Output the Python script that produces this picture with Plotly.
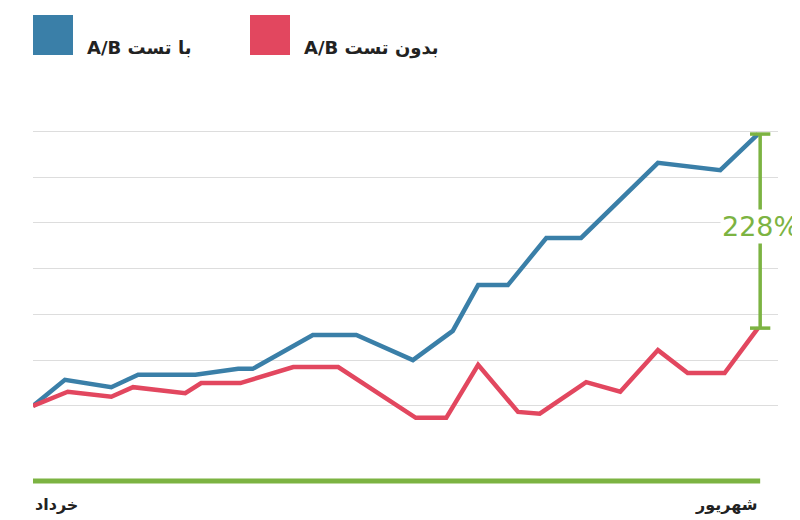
import plotly.graph_objects as go

# x: position along the timeline (0 = خرداد, 100 = شهریور)
with_ab_x = [0, 4.4, 10.8, 14.5, 22.4, 28.3, 30.3, 38.6, 44.6, 52.4, 57.9, 61.4, 65.5, 70.8, 75.6, 86.2, 94.8, 100]
with_ab_y = [0, 0.57, 0.41, 0.68, 0.68, 0.81, 0.81, 1.55, 1.55, 1.0, 1.64, 2.64, 2.64, 3.67, 3.67, 5.31, 5.15, 5.94]

without_ab_x = [0, 4.8, 10.8, 13.8, 21.0, 23.2, 28.6, 35.9, 42.1, 52.8, 57.0, 61.4, 66.9, 69.9, 76.3, 81.0, 86.2, 90.3, 95.4, 100]
without_ab_y = [0, 0.31, 0.2, 0.41, 0.28, 0.5, 0.5, 0.85, 0.85, -0.26, -0.26, 0.9, -0.13, -0.17, 0.52, 0.31, 1.22, 0.72, 0.72, 1.7]

labels = ["با تست A/B", "بدون تست A/B"]
gain_text = "228%"
x_labels = ["خرداد", "شهریور"]
grid_vals = [0, 1, 2, 3, 4, 5, 6]

blue = "#3a7fa8"
red = "#e2475f"
green = "#7cb342"
font = "DejaVu Sans"


def rtl(s):
    return "\u202b" + s + "\u202c"


fig = go.Figure()
fig.add_trace(go.Scatter(x=with_ab_x, y=with_ab_y, mode="lines",
                         line=dict(color=blue, width=4.5), name=labels[0]))
fig.add_trace(go.Scatter(x=without_ab_x, y=without_ab_y, mode="lines",
                         line=dict(color=red, width=4.5), name=labels[1]))

# bracket showing the gap between the two series at the end
x_end = with_ab_x[-1]
top, bot = with_ab_y[-1], without_ab_y[-1]
fig.add_shape(type="line", x0=x_end + 0.3, x1=x_end + 0.3, y0=bot, y1=top,
              line=dict(color=green, width=3.5))
for yy in (top, bot):
    fig.add_shape(type="line", x0=x_end - 1.1, x1=x_end + 1.7, y0=yy, y1=yy,
                  line=dict(color=green, width=3.5))
fig.add_annotation(x=x_end + 0.3, y=(top + bot) / 2 + 0.1, text=gain_text, showarrow=False,
                   font=dict(family=font, size=27, color=green), bgcolor="white")

# baseline
fig.add_shape(type="line", yref="paper", x0=0, x1=x_end + 0.3, y0=0, y1=0,
              line=dict(color=green, width=5))

# legend drawn by hand (pixel positions converted to paper coords)
L, W, T, H = 25, 745, 78, 395


def px(x):
    return (x - L) / W


def py(y):
    return (T + H - y) / H


for x0, col, lab in [(25, blue, labels[0]), (242, red, labels[1])]:
    fig.add_shape(type="rect", xref="paper", yref="paper",
                  x0=px(x0), x1=px(x0 + 40), y0=py(47), y1=py(7),
                  fillcolor=col, line=dict(width=0))
    fig.add_annotation(xref="paper", yref="paper", x=px(x0 + 52), y=py(27),
                       xanchor="left", text="<b>" + rtl(lab) + "</b>", showarrow=False,
                       font=dict(family=font, size=18, color="#222"))

fig.add_annotation(xref="paper", yref="paper", x=0, y=-0.03, yanchor="top", xanchor="left",
                   text="<b>" + x_labels[0] + "</b>", showarrow=False,
                   font=dict(family=font, size=16, color="#222"))
fig.add_annotation(xref="paper", yref="paper", x=px(752), y=-0.03, yanchor="top", xanchor="right",
                   text="<b>" + x_labels[1] + "</b>", showarrow=False,
                   font=dict(family=font, size=16, color="#222"))

fig.update_layout(
    width=800, height=520, showlegend=False,
    plot_bgcolor="white", paper_bgcolor="white",
    margin=dict(l=L, r=800 - L - W, t=T, b=520 - T - H),
    xaxis=dict(range=[0, 102.76], visible=False),
    yaxis=dict(range=[-1.64, 6.99], tickvals=grid_vals, showticklabels=False,
               gridcolor="#dddddd", gridwidth=1, zeroline=False),
)

fig.write_html("out.html")
